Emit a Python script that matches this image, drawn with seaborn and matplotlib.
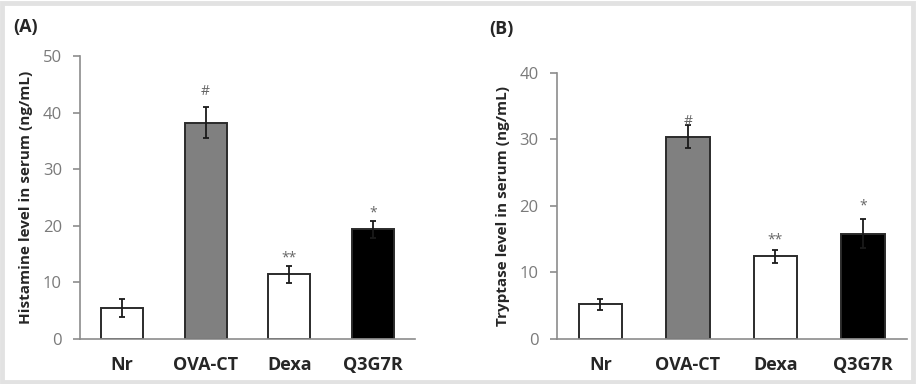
#!/usr/bin/env python3
"""Serum histamine (A) and tryptase (B) levels per treatment group."""
import matplotlib
matplotlib.use("Agg")
import matplotlib.pyplot as plt
import numpy as np
import pandas as pd
import seaborn as sns
from matplotlib.patches import Rectangle

groups = ["Nr", "OVA-CT", "Dexa", "Q3G7R"]
bar_colors = ["#ffffff", "#808080", "#ffffff", "#000000"]

histamine_mean = [5.4, 38.2, 11.4, 19.4]
histamine_err = [1.6, 2.7, 1.5, 1.5]
histamine_marks = ["", "#", "**", "*"]

tryptase_mean = [5.2, 30.4, 12.4, 15.8]
tryptase_err = [0.8, 1.7, 1.0, 2.2]
tryptase_marks = ["", "#", "**", "*"]

sns.set_style("white")
plt.rcParams["font.family"] = ["Open Sans", "DejaVu Sans"]

fig = plt.figure(figsize=(9.17, 3.84), dpi=100)
fig.patches.append(Rectangle((0.002, 0.005), 0.994, 0.988, transform=fig.transFigure,
                             fill=False, edgecolor="#e2e2e2", linewidth=3.5))

ax_a = fig.add_axes([0.0872, 0.1172, 0.3654, 0.737])
ax_b = fig.add_axes([0.6071, 0.1172, 0.3817, 0.6935])


def draw_panel(ax, means, errs, marks, mark_offsets, ylabel, ymax):
    df = pd.DataFrame({"group": groups, "value": means})
    sns.barplot(data=df, x="group", y="value", hue="group", palette=bar_colors,
                legend=False, width=0.5, edgecolor="#2b2b2b", linewidth=1.4, ax=ax)
    ax.errorbar(range(len(groups)), means, yerr=errs, fmt="none", ecolor="#1a1a1a",
                elinewidth=1.3, capsize=2.5, capthick=1.3)
    # significance marks sit just above the error bar tops (offsets in points)
    for i, (m, e, s, off) in enumerate(zip(means, errs, marks, mark_offsets)):
        if s:
            ax.annotate(s, (i, m + e), xytext=(0, off), textcoords="offset points",
                        ha="center", va="bottom", fontsize=10, color="#666666")
    ax.set_xlim(-0.5, 3.5)
    ax.set_ylim(0, ymax)
    ax.set_yticks(np.arange(0, ymax + 1, 10))
    ax.set_xlabel("")
    ax.set_ylabel(ylabel, fontsize=11, fontweight="bold", labelpad=7)
    for side in ["top", "right"]:
        ax.spines[side].set_visible(False)
    for side in ["left", "bottom"]:
        ax.spines[side].set_color("#8c8c8c")
        ax.spines[side].set_linewidth(1.2)
    ax.tick_params(axis="y", which="both", left=True, length=5, width=1.2,
                   color="#8c8c8c", labelsize=12, labelcolor="#7a7a7a", pad=8)
    ax.tick_params(axis="x", bottom=False, labelsize=13, pad=9)
    for lab in ax.get_xticklabels():
        lab.set_fontweight("bold")


draw_panel(ax_a, histamine_mean, histamine_err, histamine_marks, [0, 6, 0.5, 0.5],
           "Histamine level in serum (ng/mL)", 50)
draw_panel(ax_b, tryptase_mean, tryptase_err, tryptase_marks, [0, -3, 2, 4],
           "Tryptase level in serum (ng/mL)", 40)

fig.text(0.014, 0.93, "(A)", fontsize=13, fontweight="bold", va="center")
fig.text(0.534, 0.925, "(B)", fontsize=13, fontweight="bold", va="center")

fig.savefig("out.png", dpi=100)
plt.close(fig)
